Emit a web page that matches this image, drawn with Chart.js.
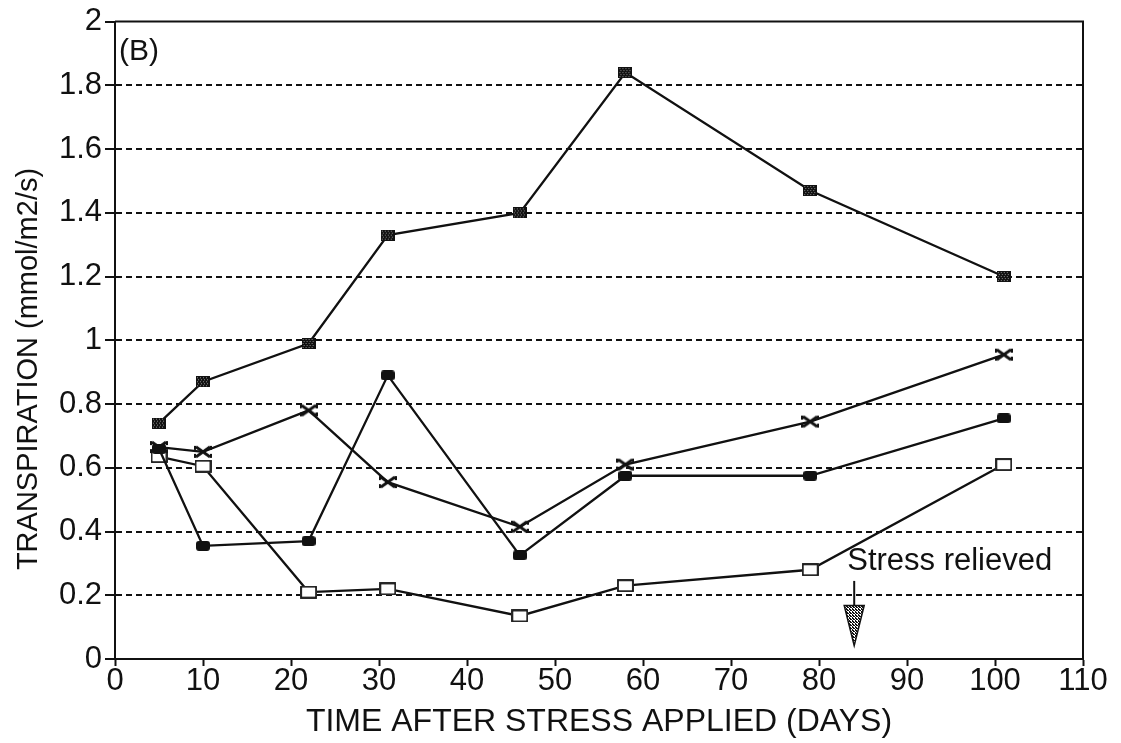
<!DOCTYPE html>
<html>
<head>
<meta charset="utf-8">
<script src="https://cdn.jsdelivr.net/npm/chart.js@4.4.1/dist/chart.umd.min.js"></script>
<style>
  html, body { margin: 0; padding: 0; background: #fff; }
  #wrap { width: 1121px; height: 743px; }
</style>
</head>
<body>
<div id="wrap"><canvas id="chart" width="1121" height="743"></canvas></div>
<script>
// Transpiration readings, days after stress was applied
const days = [5, 10, 22, 31, 46, 58, 79, 101];
const seriesA = [0.74, 0.87, 0.99, 1.33, 1.40, 1.84, 1.47, 1.20];
const seriesB = [0.665, 0.65, 0.78, 0.555, 0.415, 0.61, 0.745, 0.955];
const seriesC = [0.66, 0.355, 0.37, 0.89, 0.325, 0.575, 0.575, 0.755];
const seriesD = [0.635, 0.605, 0.21, 0.22, 0.135, 0.23, 0.28, 0.61];

const xTicks = [0, 10, 20, 30, 40, 50, 60, 70, 80, 90, 100, 110];
const yTicks = [0, 0.2, 0.4, 0.6, 0.8, 1, 1.2, 1.4, 1.6, 1.8, 2];
const yTickLabels = ['0', '0.2', '0.4', '0.6', '0.8', '1', '1.2', '1.4', '1.6', '1.8', '2'];

const stressDay = 84;
const INK = '#111';
const FONT = "'Liberation Sans', Arial, Helvetica, sans-serif";

// small canvases used as point markers
function makeMarker(w, h, draw) {
    const c = document.createElement('canvas');
    c.width = w; c.height = h;
    draw(c.getContext('2d'), w, h);
    return c;
}

const hatchedSquare = makeMarker(14, 11, (ctx, w, h) => {
    ctx.fillStyle = INK;
    ctx.fillRect(0, 0, w, h);
    ctx.fillStyle = 'rgba(255,255,255,0.5)';
    for (let y = 1; y < h - 1; y += 2) {
        for (let x = 1 + (y % 4 === 1 ? 0 : 1); x < w - 1; x += 3) ctx.fillRect(x, y, 1, 1);
    }
});

const crossMark = makeMarker(18, 14, (ctx, w, h) => {
    ctx.strokeStyle = INK;
    ctx.lineWidth = 2.8;
    ctx.beginPath();
    ctx.moveTo(2, 2); ctx.lineTo(w - 2, h - 2);
    ctx.moveTo(2, h - 2); ctx.lineTo(w - 2, 2);
    ctx.stroke();
    ctx.lineWidth = 2;
    ctx.beginPath();
    ctx.moveTo(1, 1); ctx.lineTo(1, 5);
    ctx.moveTo(w - 1, 1); ctx.lineTo(w - 1, 5);
    ctx.moveTo(1, h - 1); ctx.lineTo(1, h - 5);
    ctx.moveTo(w - 1, h - 1); ctx.lineTo(w - 1, h - 5);
    ctx.moveTo(w / 2 - 3, h / 2); ctx.lineTo(w / 2 + 3, h / 2);
    ctx.stroke();
});

const roundBlock = makeMarker(14, 10, (ctx, w, h) => {
    ctx.fillStyle = INK;
    ctx.beginPath();
    ctx.roundRect(0, 0, w, h, 3);
    ctx.fill();
});

const openSquare = makeMarker(17, 13, (ctx, w, h) => {
    ctx.fillStyle = '#fff';
    ctx.fillRect(0, 0, w, h);
    ctx.strokeStyle = INK;
    ctx.lineWidth = 1.8;
    ctx.strokeRect(1, 1, w - 2, h - 2);
});

function points(values) {
    return days.map((d, i) => ({ x: d, y: values[i] }));
}

function lineSet(values, marker) {
    return {
        data: points(values),
        showLine: true,
        borderColor: INK,
        borderWidth: 2.3,
        tension: 0,
        pointStyle: marker,
        pointRadius: 8
    };
}

// frame, panel letter, y title and the "stress relieved" arrow
const decorations = {
    id: 'decorations',
    afterDraw(chart) {
        const { ctx, chartArea: a, scales } = chart;
        ctx.save();
        ctx.strokeStyle = INK;
        ctx.lineWidth = 2;
        ctx.beginPath();
        ctx.moveTo(a.left, a.top);
        ctx.lineTo(a.right, a.top);
        ctx.lineTo(a.right, a.bottom);
        ctx.stroke();

        ctx.fillStyle = INK;
        ctx.font = '30px ' + FONT;
        ctx.textBaseline = 'alphabetic';
        ctx.textAlign = 'left';
        ctx.fillText('(B)', a.left + 4, a.top + 38);

        // y axis title
        ctx.save();
        ctx.translate(37, 369);
        ctx.rotate(-Math.PI / 2);
        ctx.textAlign = 'center';
        ctx.font = '29px ' + FONT;
        ctx.fillText('TRANSPIRATION (mmol/m2/s)', 0, 0);
        ctx.restore();

        // stress relieved marker
        const ax = scales.x.getPixelForValue(stressDay);
        const yText = scales.y.getPixelForValue(0.28);
        const yLine0 = scales.y.getPixelForValue(0.245);
        const yTri = scales.y.getPixelForValue(0.168);
        const yTip = scales.y.getPixelForValue(0.042);
        ctx.font = '31px ' + FONT;
        ctx.textAlign = 'left';
        ctx.fillText('Stress relieved', ax - 7, yText);

        ctx.lineWidth = 2;
        ctx.beginPath();
        ctx.moveTo(ax, yLine0);
        ctx.lineTo(ax, yTri);
        ctx.stroke();

        const pc = document.createElement('canvas');
        pc.width = 3; pc.height = 3;
        const pctx = pc.getContext('2d');
        pctx.fillStyle = '#fff';
        pctx.fillRect(0, 0, 3, 3);
        pctx.fillStyle = INK;
        pctx.fillRect(0, 0, 2, 1);
        pctx.fillRect(1, 1, 2, 1);
        pctx.fillRect(0, 2, 1, 1);
        ctx.fillStyle = ctx.createPattern(pc, 'repeat');
        ctx.beginPath();
        ctx.moveTo(ax - 10, yTri);
        ctx.lineTo(ax + 10, yTri);
        ctx.lineTo(ax, yTip);
        ctx.closePath();
        ctx.fill();
        ctx.lineWidth = 1.5;
        ctx.stroke();
        ctx.restore();
    }
};

new Chart(document.getElementById('chart').getContext('2d'), {
    type: 'scatter',
    data: {
        datasets: [
            lineSet(seriesA, hatchedSquare),
            lineSet(seriesC, roundBlock),
            lineSet(seriesB, crossMark),
            lineSet(seriesD, openSquare)
        ]
    },
    options: {
        responsive: false,
        animation: false,
        layout: { padding: { top: 19, right: 38, left: 0, bottom: 0 } },
        plugins: { legend: { display: false }, tooltip: { enabled: false } },
        scales: {
            x: {
                type: 'linear',
                min: 0,
                max: 110,
                afterBuildTicks: s => { s.ticks = xTicks.map(v => ({ value: v })); },
                afterFit: s => { s.height = 84; },
                ticks: {
                    color: INK,
                    font: { family: FONT, size: 31, lineHeight: 1 },
                    padding: 0,
                    maxRotation: 0,
                    autoSkip: false
                },
                grid: { drawOnChartArea: false, tickLength: 7, tickColor: INK, tickWidth: 2 },
                border: { color: INK, width: 2 },
                title: {
                    display: true,
                    text: 'TIME AFTER STRESS APPLIED (DAYS)',
                    color: INK,
                    font: { family: FONT, size: 32 },
                    padding: { top: 0, bottom: 2 }
                }
            },
            y: {
                min: 0,
                max: 2,
                afterBuildTicks: s => { s.ticks = yTicks.map(v => ({ value: v })); },
                afterFit: s => { s.width = 115; },
                ticks: {
                    color: INK,
                    font: { family: FONT, size: 31 },
                    padding: 3,
                    autoSkip: false,
                    callback: (v, i) => yTickLabels[i]
                },
                grid: {
                    color: c => (c.tick && (c.tick.value === 0 || c.tick.value === 2)) ? 'rgba(0,0,0,0)' : INK,
                    lineWidth: 2,
                    tickLength: 10,
                    tickColor: INK,
                    tickWidth: 2
                },
                border: { color: INK, width: 2, dash: [6, 4] }
            }
        }
    },
    plugins: [decorations]
});
</script>
</body>
</html>
